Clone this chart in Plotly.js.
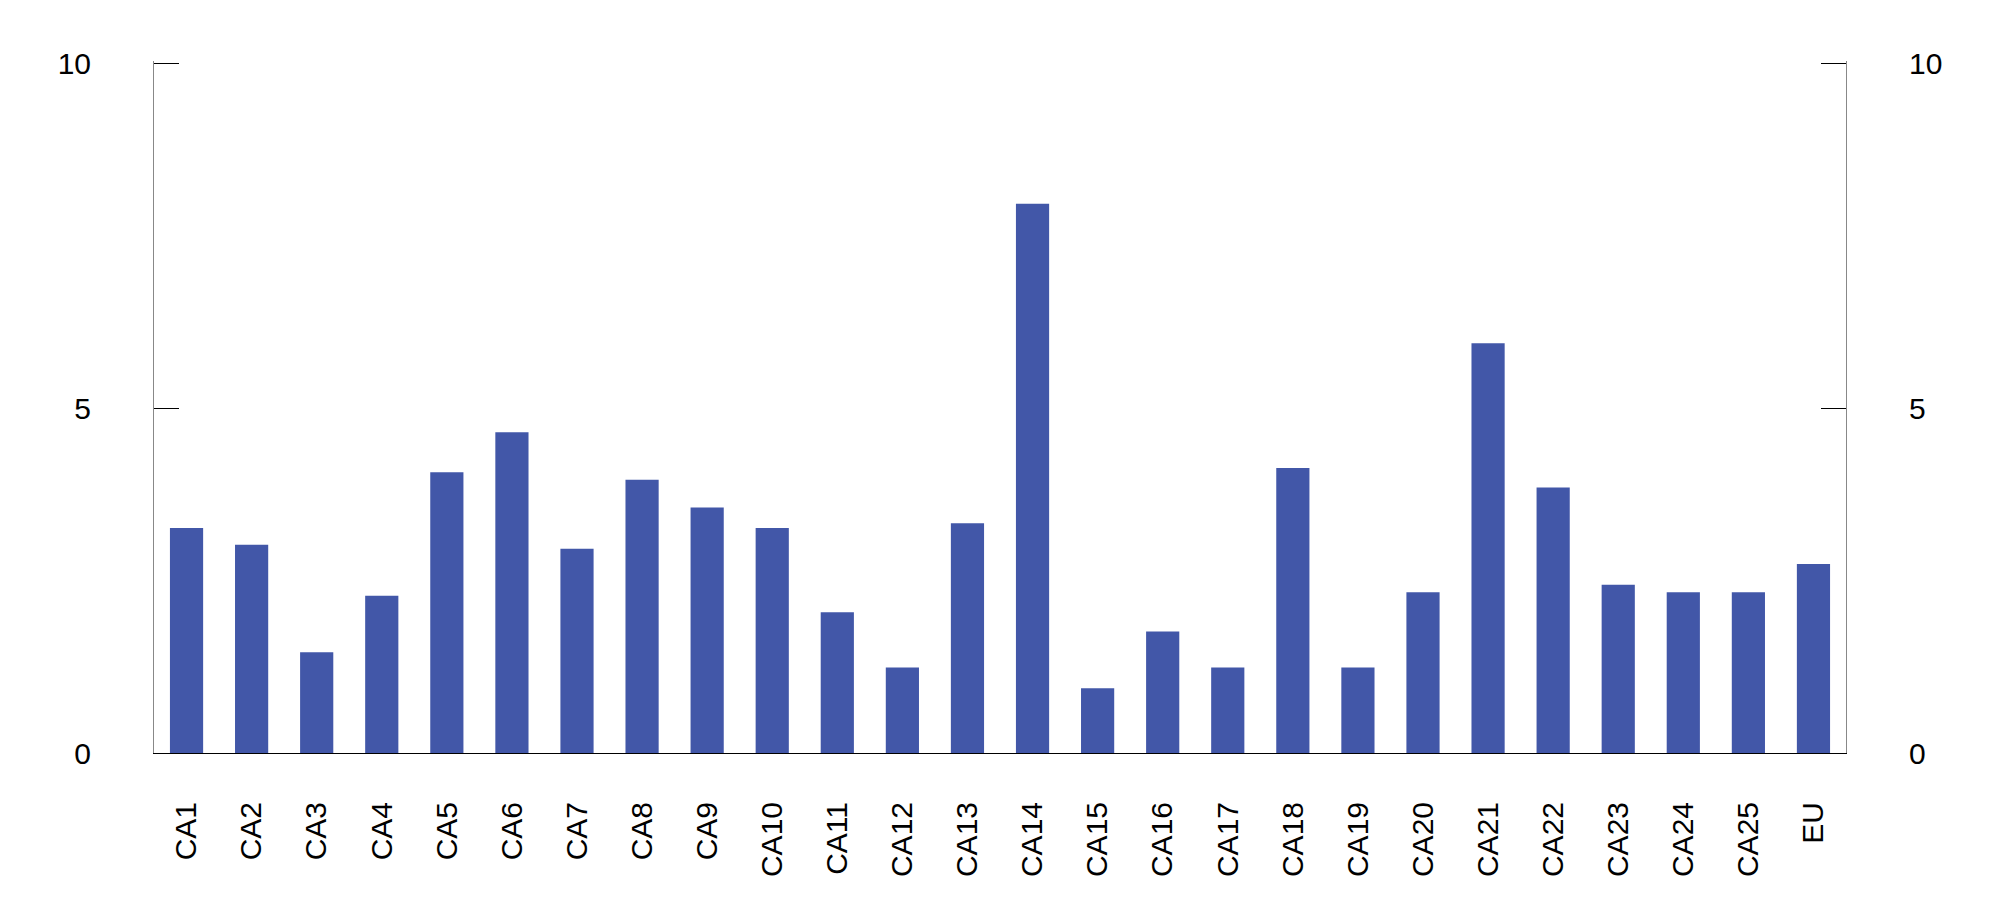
<!DOCTYPE html>
<html>
<head>
<meta charset="utf-8">
<script src="https://cdn.plot.ly/plotly-3.0.1.min.js"></script>
<style>html,body{margin:0;padding:0;background:#fff;}#chart{width:2000px;height:908px;}</style>
</head>
<body>
<div id="chart"></div>
<script>
const categories = ["CA1","CA2","CA3","CA4","CA5","CA6","CA7","CA8","CA9","CA10","CA11","CA12","CA13","CA14","CA15","CA16","CA17","CA18","CA19","CA20","CA21","CA22","CA23","CA24","CA25","EU"];
const values = [3.26,3.02,1.46,2.28,4.07,4.65,2.96,3.96,3.56,3.26,2.04,1.24,3.33,7.96,0.94,1.76,1.24,4.13,1.24,2.33,5.94,3.85,2.44,2.33,2.33,2.74];
const yTicks = [0,5,10];

const fontFam = "'Liberation Sans', Arial, Helvetica, sans-serif";
const trace = {
  type: 'bar',
  x: categories,
  y: values,
  marker: {color: '#4257a8', line: {width: 0}},
  hoverinfo: 'x+y'
};
const yCommon = {
  range: [0, 10.03],
  tickvals: yTicks,
  ticktext: yTicks.map(String),
  ticks: 'inside',
  ticklen: 25,
  tickwidth: 1,
  tickcolor: '#000',
  showline: true,
  linecolor: '#888',
  linewidth: 1,
  showgrid: false,
  zeroline: false,
  ticklabelstandoff: 56,
  tickfont: {family: fontFam, size: 30, color: '#000'},
  fixedrange: true
};
const layout = {
  width: 2000,
  height: 908,
  margin: {l: 154, r: 154, t: 61, b: 155, pad: 0},
  paper_bgcolor: '#fff',
  plot_bgcolor: '#fff',
  showlegend: false,
  bargap: 0.49,
  font: {family: fontFam, size: 30, color: '#000'},
  xaxis: {
    type: 'category',
    range: [-0.5, categories.length - 0.5],
    tickangle: -90,
    ticks: '',
    showline: true,
    linecolor: '#000',
    linewidth: 1,
    showgrid: false,
    zeroline: false,
    ticklabelstandoff: 36,
    tickfont: {family: fontFam, size: 30, color: '#000'},
    fixedrange: true
  },
  yaxis: Object.assign({}, yCommon, {side: 'left'}),
  yaxis2: Object.assign({}, yCommon, {side: 'right', overlaying: 'y', anchor: 'x'})
};
const ghost = {type: 'scatter', x: [], y: [], yaxis: 'y2', mode: 'markers', hoverinfo: 'skip', showlegend: false};
Plotly.newPlot('chart', [trace, ghost], layout, {displayModeBar: false, staticPlot: true});
</script>
</body>
</html>
